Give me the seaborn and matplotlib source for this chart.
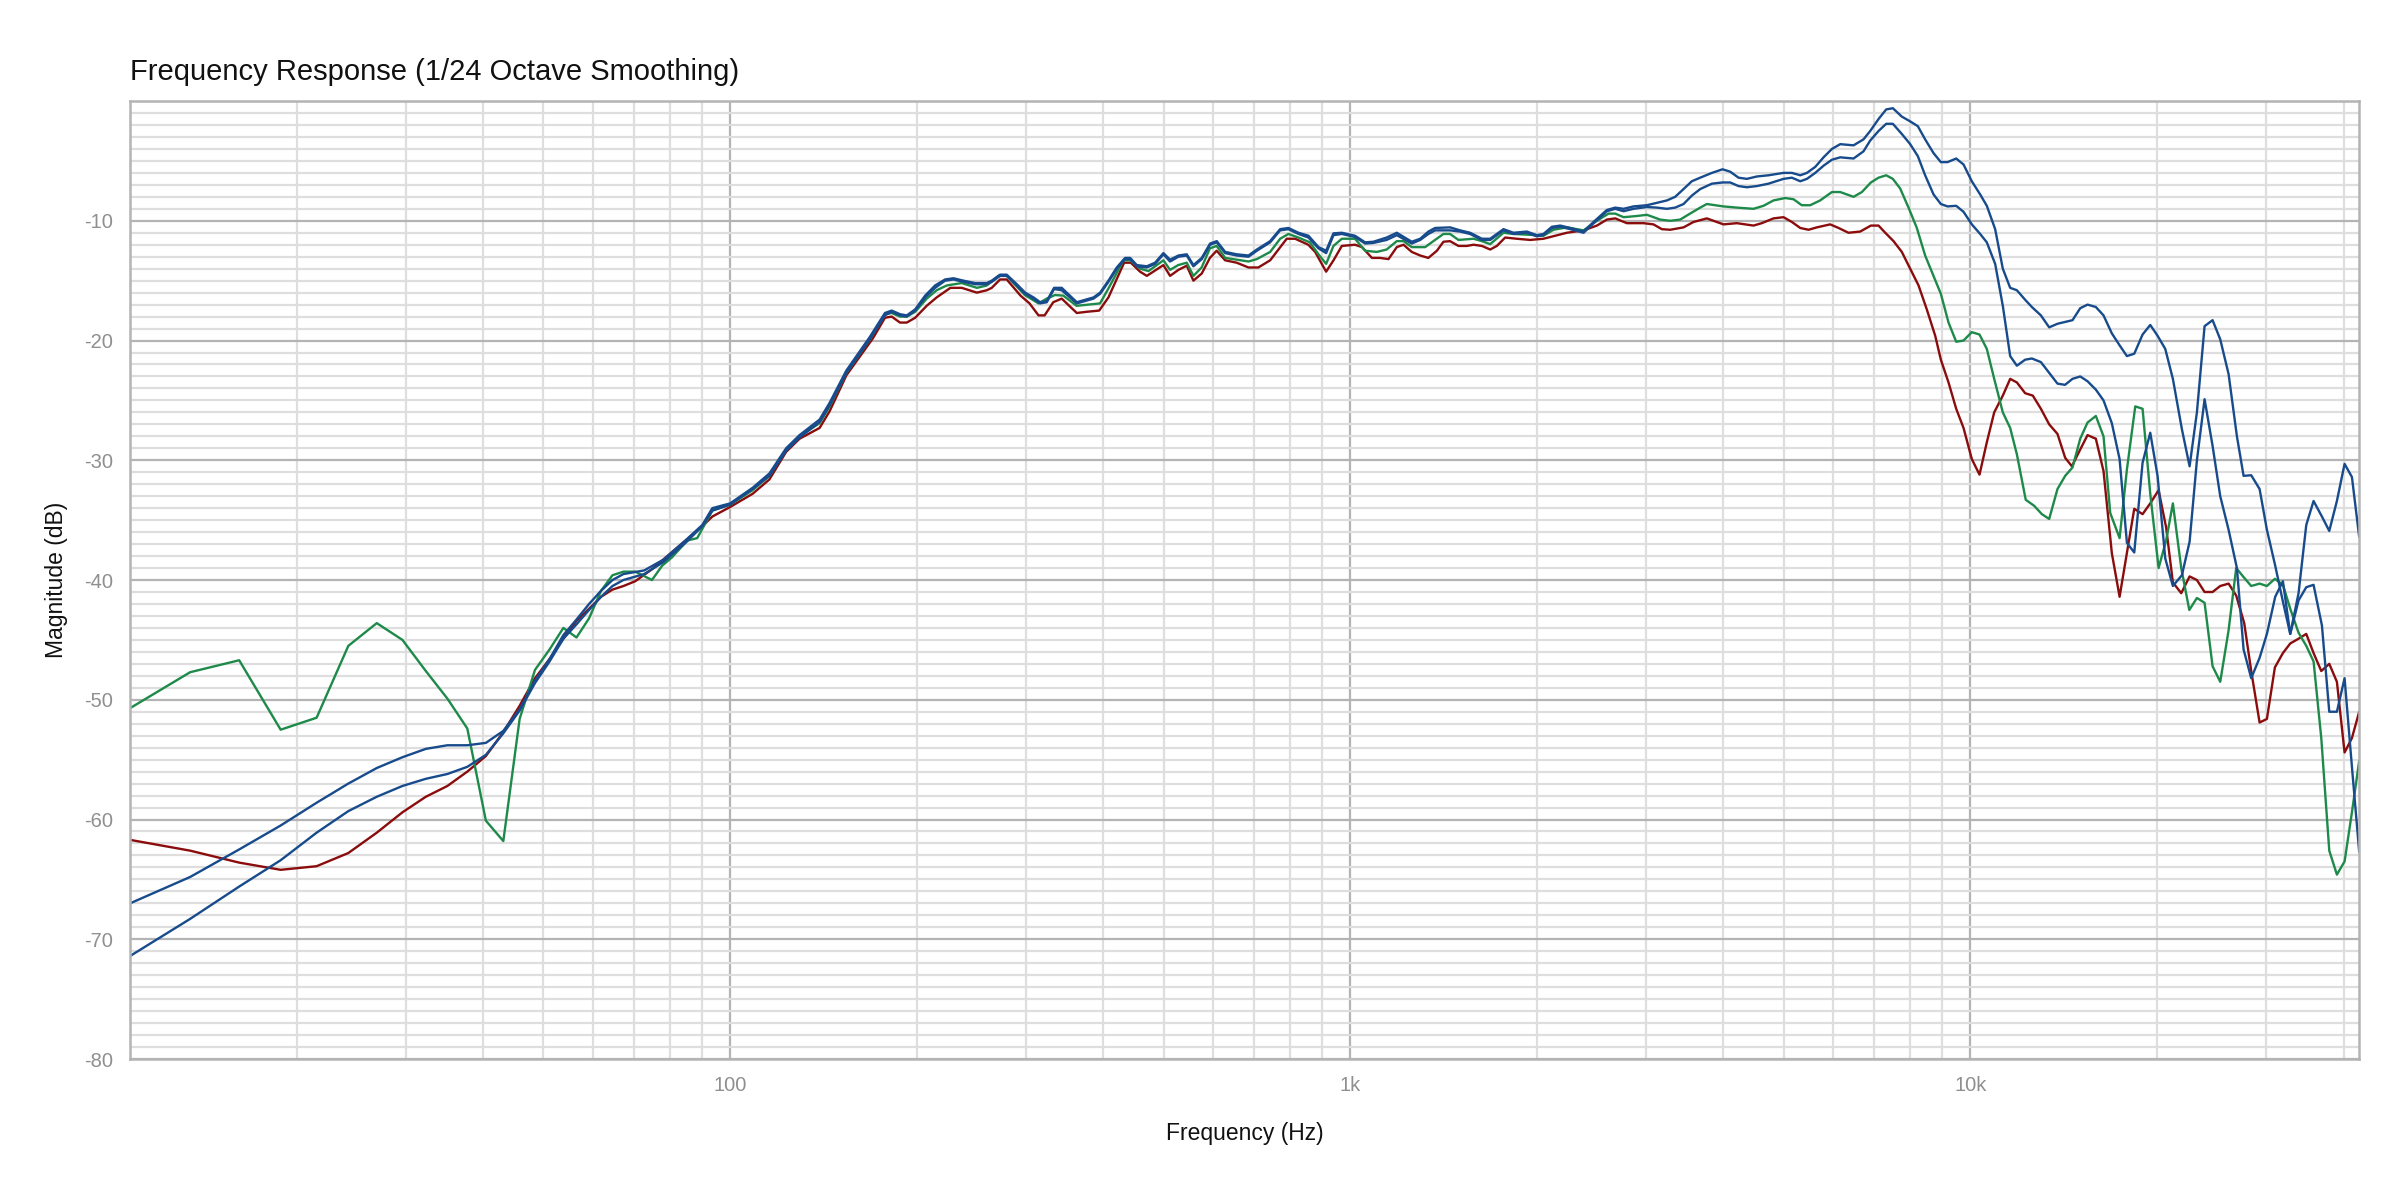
import matplotlib
matplotlib.use("Agg")
import matplotlib.pyplot as plt
import matplotlib.ticker as mtick
import numpy as np
import pandas as pd
import seaborn as sns

# frequency points of the two blue traces (Hz)
freq_blue = [10.77, 13.46, 16.15, 18.84, 21.53, 24.22, 26.92, 29.61, 32.30, 34.99,
             37.68, 40.37, 43.07, 45.76, 48.45, 51.14, 53.83, 56.52, 59.22, 61.91,
             64.60, 67.29, 72.67, 78.06, 84.7, 90.2, 93.6, 100, 108.7, 115.7,
             123.1, 129.4, 139.4, 144.7, 154.0, 168.0, 177.7, 182.2, 187.9, 192.7,
             198.8, 206.3, 214.1, 222.2, 229.2, 237.8, 248.4, 259.4, 264.2, 272.5,
             279.3, 290.0, 299.1, 308.5, 316.2, 324.1, 333.0, 342.6, 362.3, 373.7,
             385.5, 395.1, 407.5, 420.3, 433.5, 441.7, 452.7, 469.9, 484.6, 499.8,
             512.3, 528.4, 545.0, 558.7, 576.3, 594.4, 609.3, 628.6, 656.4, 685.5,
             707.1, 742.9, 770.9, 795.1, 825.2, 856.5, 888.9, 914.6, 939.8, 969.5,
             1018, 1057, 1090, 1145, 1189, 1257, 1297, 1337, 1371, 1449,
             1504, 1561, 1631, 1682, 1767, 1834, 1927, 2000, 2050, 2115,
             2182, 2264, 2379, 2469, 2594, 2676, 2760, 2864, 3010, 3124,
             3242, 3343, 3449, 3556, 3669, 3832, 3986, 4101, 4230, 4363,
             4528, 4728, 4999, 5157, 5320, 5453, 5624, 5801, 5984, 6172,
             6484, 6728, 6898, 7115, 7320, 7503, 7757, 8002, 8232, 8459,
             8727, 8967, 9193, 9493, 9755, 10060, 10376, 10636, 10971, 11287,
             11600, 11892, 12265, 12573, 13002, 13408, 13828, 14220, 14622, 15046,
             15460, 15945, 16406, 16920, 17415, 17896, 18390, 18967, 19515, 20052,
             20634, 21226, 21948, 22585, 23207, 23878, 24598, 25307, 26104, 26924,
             27599, 28393, 29290, 30096, 31039, 31938, 32820, 33850, 34834, 35790,
             36920, 37940, 39030, 40160, 41270, 42400]

blue_a = [-67.0, -64.8, -62.5, -60.5, -58.6, -57.0, -55.7, -54.8, -54.1, -53.8,
          -53.8, -53.6, -52.6, -50.8, -48.4, -46.6, -44.6, -43.3, -42.0, -40.9,
          -40.0, -39.5, -39.2, -38.3, -36.7, -35.4, -34.0, -33.6, -32.3, -31.1,
          -29.0, -27.9, -26.6, -25.2, -22.5, -19.7, -17.7, -17.5, -17.8, -17.9,
          -17.4, -16.25, -15.4, -14.9, -14.8, -15.0, -15.2, -15.2, -15.0, -14.5,
          -14.5, -15.3, -16.0, -16.4, -16.8, -16.7, -15.6, -15.6, -16.8, -16.6,
          -16.4, -16.0, -15.0, -13.9, -13.1, -13.1, -13.7, -13.8, -13.5, -12.7,
          -13.25, -12.9, -12.8, -13.7, -13.1, -11.9, -11.7, -12.6, -12.8, -12.9,
          -12.4, -11.7, -10.7, -10.6, -11.0, -11.25, -12.2, -12.5, -11.05, -11.0,
          -11.25, -11.8, -11.75, -11.4, -11.0, -11.75, -11.5, -10.9, -10.6, -10.55,
          -10.8, -11.0, -11.5, -11.5, -10.7, -11.0, -10.9, -11.2, -11.1, -10.5,
          -10.4, -10.6, -10.9, -10.1, -9.1, -8.9, -9.0, -8.8, -8.7, -8.5,
          -8.3, -8.0, -7.35, -6.7, -6.4, -6.0, -5.7, -5.9, -6.4, -6.5,
          -6.3, -6.2, -6.0, -6.0, -6.2, -6.0, -5.5, -4.7, -4.0, -3.6,
          -3.7, -3.2, -2.5, -1.5, -0.7, -0.6, -1.3, -1.7, -2.1, -3.2,
          -4.35, -5.1, -5.1, -4.8, -5.3, -6.7, -7.8, -8.75, -10.7, -14.0,
          -15.6, -15.8, -16.6, -17.2, -17.9, -18.9, -18.6, -18.45, -18.3, -17.3,
          -17.0, -17.2, -17.9, -19.4, -20.4, -21.3, -21.1, -19.5, -18.7, -19.6,
          -20.7, -23.2, -27.4, -30.5, -26.0, -18.8, -18.3, -19.9, -22.8, -28.0,
          -31.3, -31.25, -32.4, -35.8, -38.8, -41.8, -44.5, -41.1, -35.4, -33.4,
          -34.7, -35.9, -33.4, -30.3, -31.4, -36.4]

blue_b = [-71.4, -68.3, -65.6, -63.4, -61.1, -59.3, -58.1, -57.2, -56.6, -56.2,
          -55.6, -54.6, -52.8, -50.9, -48.6, -46.8, -44.9, -43.7, -42.5, -41.4,
          -40.5, -40.0, -39.5, -38.5, -36.9, -35.5, -34.2, -33.7, -32.4, -31.3,
          -29.2, -28.1, -26.8, -25.4, -22.7, -19.9, -17.9, -17.6, -17.9, -18.0,
          -17.5, -16.4, -15.6, -15.0, -14.9, -15.1, -15.3, -15.3, -15.1, -14.6,
          -14.6, -15.4, -16.1, -16.5, -16.9, -16.8, -15.7, -15.8, -16.9, -16.7,
          -16.5, -16.1, -15.1, -14.0, -13.2, -13.2, -13.8, -13.9, -13.6, -12.8,
          -13.4, -13.0, -12.9, -13.8, -13.2, -12.0, -11.8, -12.7, -12.9, -13.0,
          -12.5, -11.8, -10.8, -10.7, -11.1, -11.4, -12.3, -12.7, -11.2, -11.1,
          -11.35, -11.9, -11.85, -11.6, -11.2, -11.9, -11.6, -11.1, -10.8, -10.8,
          -10.9, -11.1, -11.6, -11.6, -10.8, -11.1, -11.0, -11.3, -11.2, -10.6,
          -10.5, -10.7, -11.0, -10.2, -9.2, -9.0, -9.2, -9.0, -8.85, -8.9,
          -9.0, -8.9, -8.6, -7.9, -7.35, -6.9, -6.8, -6.8, -7.1, -7.2,
          -7.1, -6.9, -6.5, -6.4, -6.7, -6.5, -6.0, -5.4, -4.9, -4.7,
          -4.8, -4.2, -3.3, -2.5, -1.9, -1.9, -2.75, -3.6, -4.6, -6.2,
          -7.8, -8.6, -8.8, -8.75, -9.25, -10.3, -11.1, -11.8, -13.6, -17.1,
          -21.3, -22.1, -21.6, -21.5, -21.8, -22.7, -23.6, -23.7, -23.2, -23.0,
          -23.4, -24.1, -25.0, -26.9, -29.9, -36.9, -37.7, -30.2, -27.7, -31.3,
          -38.2, -40.5, -39.6, -36.8, -30.0, -24.9, -28.8, -33.0, -35.8, -39.0,
          -45.8, -48.2, -46.5, -44.5, -41.4, -40.1, -44.5, -41.7, -40.6, -40.4,
          -43.8, -51.0, -51.0, -48.2, -55.6, -62.7]

freq_red = [10.77, 13.46, 16.15, 18.84, 21.53, 24.22, 26.92, 29.61, 32.30, 34.99,
            37.68, 40.37, 43.07, 45.76, 48.45, 51.14, 53.83, 56.52, 59.22, 61.91,
            64.60, 67.29, 70.3, 74.8, 79.6, 84.7, 90.2, 93.6, 100, 108.7,
            115.7, 123.1, 129.4, 139.4, 144.7, 154.0, 170, 177.7, 182.2, 187.9,
            192.7, 198.8, 207.5, 215.3, 226.6, 236.3, 250, 259.4, 264.2, 272.5,
            279.3, 294, 304, 314.3, 321.5, 332, 342.6, 362.3, 375.8, 393.7,
            407.5, 420, 431.9, 442.8, 458.3, 469.9, 499.8, 512.3, 528.4, 545,
            558.7, 576.3, 594, 609, 628.6, 656, 685.5, 711, 743, 790,
            815, 856, 878, 914.6, 940, 969.5, 1018, 1045, 1084, 1117,
            1153, 1189, 1219, 1257, 1297, 1337, 1380, 1414, 1449, 1495,
            1542, 1581, 1631, 1682, 1724, 1778, 1857, 1951, 2050, 2142,
            2236, 2379, 2500, 2594, 2676, 2794, 2972, 3084, 3182, 3282,
            3449, 3578, 3760, 4000, 4204, 4472, 4611, 4817, 4999, 5157,
            5320, 5486, 5658, 5945, 6133, 6363, 6646, 6915, 7115, 7294,
            7522, 7757, 8002, 8254, 8511, 8781, 8967, 9226, 9493, 9755,
            10060, 10351, 10636, 10932, 11287, 11600, 11892, 12265, 12618, 13002,
            13408, 13828, 14230, 14588, 15046, 15460, 15945, 16406, 16920, 17415,
            17896, 18390, 18967, 19515, 20130, 20700, 21226, 21896, 22585, 23207,
            23878, 24598, 25307, 26104, 26853, 27665, 28393, 29290, 30096, 31000,
            31938, 32820, 33850, 34834, 35790, 36830, 37940, 39030, 40160, 41270,
            42400]

red = [-61.7, -62.6, -63.6, -64.2, -63.9, -62.8, -61.1, -59.4, -58.1, -57.2,
       -56.0, -54.7, -52.7, -50.5, -48.2, -46.6, -44.9, -43.4, -42.4, -41.4,
       -40.8, -40.5, -40.1, -39.1, -37.9, -36.7, -35.5, -34.7, -33.9, -32.8,
       -31.6, -29.3, -28.2, -27.3, -25.9, -22.9, -19.8, -18.1, -18.0, -18.5,
       -18.5, -18.1, -17.1, -16.4, -15.6, -15.6, -16.0, -15.8, -15.6, -14.9,
       -14.9, -16.25, -16.9, -17.9, -17.9, -16.8, -16.5, -17.7, -17.6, -17.5,
       -16.4, -14.9, -13.5, -13.5, -14.25, -14.6, -13.7, -14.6, -14.1, -13.75,
       -15.0, -14.4, -13.1, -12.5, -13.3, -13.5, -13.9, -13.9, -13.3, -11.5,
       -11.5, -12.0, -12.6, -14.25, -13.3, -12.1, -12.0, -12.2, -13.1, -13.1,
       -13.2, -12.2, -12.0, -12.6, -12.9, -13.1, -12.5, -11.75, -11.7, -12.1,
       -12.1, -12.0, -12.1, -12.4, -12.1, -11.4, -11.5, -11.6, -11.5, -11.25,
       -11.0, -10.8, -10.4, -9.9, -9.8, -10.2, -10.2, -10.3, -10.7, -10.75,
       -10.55, -10.1, -9.8, -10.3, -10.2, -10.4, -10.2, -9.8, -9.7, -10.1,
       -10.6, -10.75, -10.55, -10.3, -10.6, -11.0, -10.9, -10.4, -10.4, -11.0,
       -11.7, -12.6, -14.0, -15.4, -17.4, -19.6, -21.6, -23.5, -25.7, -27.3,
       -29.9, -31.2, -28.5, -26.0, -24.6, -23.2, -23.5, -24.4, -24.6, -25.7,
       -27.0, -27.8, -29.8, -30.5, -29.1, -27.9, -28.2, -30.9, -37.75, -41.4,
       -37.75, -34.05, -34.5, -33.6, -32.5, -35.6, -40.2, -41.1, -39.7, -40.0,
       -41.0, -41.0, -40.5, -40.3, -41.3, -43.6, -47.6, -51.9, -51.6, -47.3,
       -46.1, -45.3, -44.9, -44.5, -46.1, -47.6, -47.0, -48.5, -54.4, -53.2,
       -51.0]

freq_green = [10.77, 13.46, 16.15, 18.84, 21.53, 24.22, 26.92, 29.61, 32.30, 34.99,
              37.68, 40.37, 43.07, 45.76, 48.45, 51.14, 53.83, 56.52, 59.22, 61.91,
              64.60, 67.29, 70.3, 74.8, 77.7, 80.6, 85.3, 88.5, 93.6, 100,
              108.7, 115.7, 123.1, 129.4, 139.4, 144.7, 154.0, 168.0, 177.7, 182.2,
              187.9, 192.7, 198.8, 207.5, 215.3, 223.6, 236.3, 250.1, 259.4, 270.8,
              279.3, 290, 298.7, 314.3, 324, 334.2, 344.7, 362, 395, 410,
              430.8, 441.7, 458.3, 472.8, 499.8, 512.3, 528, 545, 558.7, 576,
              594, 609, 628.6, 685.5, 707, 743, 771, 795, 825, 861,
              889, 914.6, 939.8, 969.5, 1018, 1057, 1104, 1145, 1189, 1219,
              1257, 1321, 1362, 1414, 1449, 1495, 1581, 1631, 1682, 1767,
              1834, 2000, 2050, 2128, 2236, 2379, 2500, 2610, 2676, 2760,
              2900, 3010, 3162, 3282, 3406, 3533, 3669, 3760, 4000, 4204,
              4472, 4640, 4817, 5030, 5188, 5350, 5520, 5728, 5984, 6172,
              6484, 6688, 6915, 7115, 7320, 7503, 7709, 7953, 8202, 8459,
              8727, 8967, 9226, 9493, 9755, 10060, 10351, 10636, 10932, 11287,
              11600, 11892, 12290, 12680, 13049, 13408, 13828, 14230, 14622, 15046,
              15460, 15945, 16406, 16820, 17415, 17896, 18458, 18967, 19515, 20130,
              20700, 21226, 21896, 22560, 23207, 23878, 24598, 25307, 26104, 26853,
              27595, 28393, 29290, 30096, 31000, 31938, 32820, 33850, 34834, 35790,
              36830, 37940, 39030, 40160, 41270, 42400]

green = [-50.7, -47.7, -46.7, -52.5, -51.5, -45.5, -43.6, -45.0, -47.6, -49.9,
         -52.4, -60.1, -61.8, -51.6, -47.5, -45.8, -44.0, -44.8, -43.2, -40.9,
         -39.6, -39.3, -39.3, -40.0, -38.8, -38.1, -36.7, -36.5, -34.2, -33.7,
         -32.5, -31.3, -29.1, -28.0, -26.9, -25.5, -22.7, -19.9, -17.8, -17.7,
         -18.0, -18.0, -17.6, -16.5, -15.8, -15.4, -15.2, -15.6, -15.4, -14.6,
         -14.6, -15.5, -16.2, -16.9, -16.5, -16.2, -16.25, -17.1, -16.9, -15.4,
         -13.3, -13.3, -14.0, -14.2, -13.3, -14.1, -13.7, -13.5, -14.6, -13.9,
         -12.3, -12.1, -13.1, -13.4, -13.2, -12.6, -11.5, -11.1, -11.4, -11.8,
         -12.8, -13.6, -12.1, -11.5, -11.5, -12.5, -12.6, -12.4, -11.7, -11.7,
         -12.2, -12.2, -11.7, -11.1, -11.1, -11.6, -11.5, -11.7, -11.95, -11.0,
         -11.1, -11.2, -11.25, -10.75, -10.55, -10.8, -10.0, -9.4, -9.4, -9.7,
         -9.6, -9.5, -9.9, -10.0, -9.9, -9.4, -8.9, -8.6, -8.8, -8.9,
         -9.0, -8.75, -8.3, -8.1, -8.2, -8.7, -8.7, -8.3, -7.6, -7.6,
         -8.0, -7.6, -6.8, -6.4, -6.2, -6.5, -7.3, -8.9, -10.6, -12.9,
         -14.6, -16.1, -18.5, -20.1, -20.0, -19.3, -19.5, -20.7, -23.2, -26.0,
         -27.3, -29.5, -33.3, -33.8, -34.5, -34.9, -32.4, -31.3, -30.6, -28.2,
         -26.85, -26.3, -28.0, -34.4, -36.5, -30.75, -25.5, -25.7, -32.8, -39.0,
         -36.7, -33.6, -39.0, -42.5, -41.5, -41.9, -47.2, -48.5, -44.2, -39.0,
         -39.75, -40.5, -40.3, -40.5, -39.9, -40.4, -42.4, -44.4, -45.5, -46.8,
         -53.2, -62.6, -64.6, -63.5, -59.4, -55.1]

series_colors = {"red": "#8b0c0c", "green": "#1e8a4a", "blue_b": "#174b8c", "blue_a": "#174b8c"}

frames = [
    pd.DataFrame({"freq": freq_red, "db": red, "trace": "red"}),
    pd.DataFrame({"freq": freq_green, "db": green, "trace": "green"}),
    pd.DataFrame({"freq": freq_blue, "db": blue_b, "trace": "blue_b"}),
    pd.DataFrame({"freq": freq_blue, "db": blue_a, "trace": "blue_a"}),
]
df = pd.concat(frames, ignore_index=True)

sns.set_theme(style="whitegrid")
plt.rcParams["font.family"] = ["Liberation Sans", "DejaVu Sans"]
plt.rcParams["axes.unicode_minus"] = False

fig, ax = plt.subplots(figsize=(24, 12), dpi=100)
fig.subplots_adjust(left=0.0542, right=0.983, bottom=0.1175, top=0.9158)

sns.lineplot(data=df, x="freq", y="db", hue="trace", palette=series_colors,
             hue_order=["red", "green", "blue_b", "blue_a"],
             estimator=None, sort=False, legend=False, linewidth=1.7, ax=ax)

ax.set_xscale("log")
ax.set_xlim(10.77, 42400)
ax.set_ylim(-80, 0)

ax.set_xticks([100, 1000, 10000])
ax.set_xticklabels(["100", "1k", "10k"])
ax.xaxis.set_minor_locator(mtick.LogLocator(base=10, subs=range(2, 10), numticks=20))
ax.xaxis.set_minor_formatter(mtick.NullFormatter())
ax.set_yticks(range(-80, 0, 10))
ax.yaxis.set_minor_locator(mtick.MultipleLocator(1))

ax.grid(which="major", color="#b4b4b4", linewidth=1.6)
ax.grid(which="minor", color="#dedede", linewidth=1.6)
ax.set_axisbelow(True)
for s in ax.spines.values():
    s.set_visible(True)
    s.set_color("#b4b4b4")
    s.set_linewidth(1.8)

ax.tick_params(axis="both", which="both", length=0, pad=12, labelsize=14.5, labelcolor="#8f8f8f")

ax.set_title("Frequency Response (1/24 Octave Smoothing)", loc="left", fontsize=21, pad=15, color="#111111")
ax.set_xlabel("Frequency (Hz)", fontsize=16.5, labelpad=20, color="#111111")
ax.set_ylabel("Magnitude (dB)", fontsize=16.5, labelpad=12, color="#111111")

plt.savefig("out.png", dpi=100)
